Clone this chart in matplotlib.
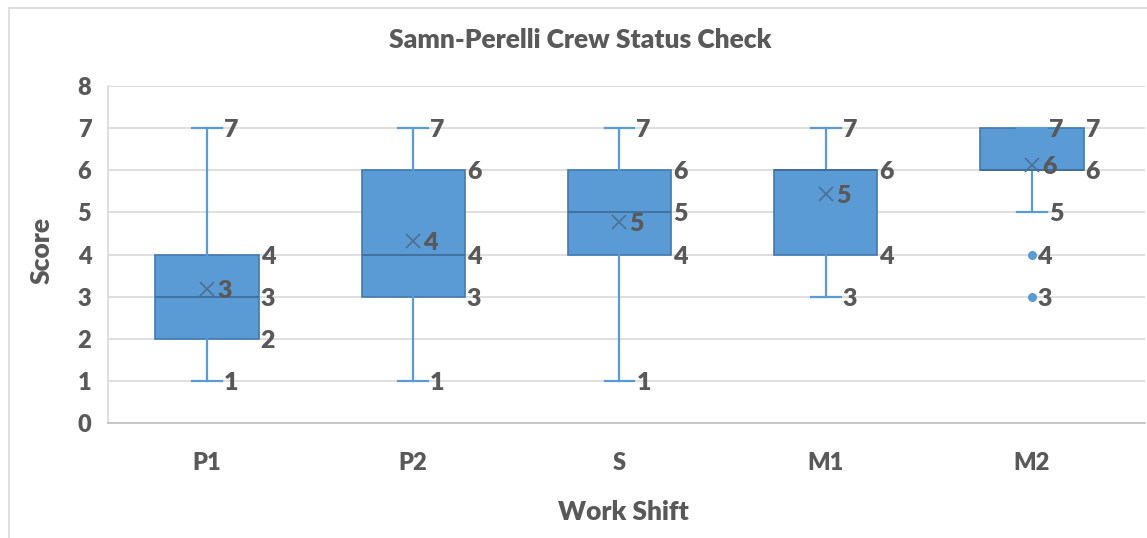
import matplotlib
matplotlib.use("Agg")
import matplotlib.pyplot as plt
from matplotlib.lines import Line2D

plt.rcParams['font.family'] = ['Lato', 'DejaVu Sans']

# ---- data ----
shifts = ["P1", "P2", "S", "M1", "M2"]
whisk_lo = [1, 1, 1, 3, 5]
q1 = [2, 3, 4, 4, 6]
medians = [3, 4, 5, 6, 6]
q3 = [4, 6, 6, 6, 7]
whisk_hi = [7, 7, 7, 7, 7]
means = [3.18, 4.32, 4.77, 5.44, 6.12]
outliers = [[], [], [], [], [4, 3]]
y_ticks = [0, 1, 2, 3, 4, 5, 6, 7, 8]

title = "Samn-Perelli Crew Status Check"
xlabel = "Work Shift"
ylabel = "Score"

W, H = 1147, 538
fig = plt.figure(figsize=(W / 100, H / 100), dpi=100)
ax = fig.add_axes([108 / W, 1 - 423 / H, (1145 - 108) / W, (423 - 86) / H])

TXT = "#595959"
BLUE = "#5B9BD5"
EDGE = "#4279B0"

stats = []
for i, s in enumerate(shifts):
    stats.append(dict(label=s, whislo=whisk_lo[i], q1=q1[i], med=medians[i],
                      q3=q3[i], whishi=whisk_hi[i], mean=means[i],
                      fliers=outliers[i]))

pos = list(range(1, len(shifts) + 1))
ax.bxp(stats, positions=pos, widths=0.5, capwidths=0.145, patch_artist=True,
       showmeans=True, showfliers=True,
       boxprops=dict(facecolor=BLUE, edgecolor=EDGE, linewidth=1.2),
       whiskerprops=dict(color=BLUE, linewidth=1.6),
       capprops=dict(color=BLUE, linewidth=1.6),
       medianprops=dict(color="#3F6E9C", linewidth=1.3),
       meanprops=dict(marker="x", markeredgecolor="#4C6F93", markersize=10,
                      markeredgewidth=1.2),
       flierprops=dict(marker="o", markerfacecolor=BLUE, markeredgecolor=BLUE,
                       markersize=5.5),
       zorder=3)

ax.set_xlim(0.52, 5.548)
ax.set_ylim(0, 8)
ax.set_yticks(y_ticks)
ax.set_xticks(pos)
ax.set_xticklabels(shifts)
ax.grid(axis="y", color="#D9D9D9", linewidth=1.2, zorder=0)
ax.set_axisbelow(True)
for sp in ["top", "right"]:
    ax.spines[sp].set_visible(False)
ax.spines["left"].set_color("#D9D9D9")
ax.spines["left"].set_linewidth(1.2)
ax.spines["bottom"].set_color("#BFBFBF")
ax.spines["bottom"].set_linewidth(1.2)
ax.tick_params(axis="both", length=0, labelcolor=TXT, labelsize=17)
ax.tick_params(axis="x", pad=21)
ax.tick_params(axis="y", pad=12)
for lab in ax.get_xticklabels() + ax.get_yticklabels():
    lab.set_fontweight("heavy")

LBL = dict(color=TXT, fontsize=18, fontweight="heavy", va="center", ha="left",
           textcoords="offset points", annotation_clip=False, zorder=5)
pt = 0.72  # px -> pt
for i, x in enumerate(pos):
    # whisker end labels
    for v in sorted({whisk_lo[i], whisk_hi[i]}):
        ax.annotate(f"{v:.0f}", (x + 0.0725, v), xytext=(2 * pt, -2 * pt), **LBL)
    # box labels
    for v in sorted({q1[i], medians[i], q3[i]}):
        ax.annotate(f"{v:.0f}", (x + 0.25, v), xytext=(2 * pt, -2 * pt), **LBL)
    # mean label
    ax.annotate(f"{means[i]:.0f}", (x, means[i]), xytext=(10 * pt, -2 * pt), **LBL)
    # outlier labels
    for v in outliers[i]:
        ax.annotate(f"{v:.0f}", (x, v), xytext=(5 * pt, -2 * pt), **LBL)

fig.text(580 / W, 1 - 40 / H, title, ha="center", va="center", color=TXT,
         fontsize=19, fontweight="heavy")
fig.text(623 / W, 1 - 512 / H, xlabel, ha="center", va="center", color=TXT,
         fontsize=19, fontweight="heavy")
fig.text(42 / W, 1 - 250 / H, ylabel, ha="center", va="center", color=TXT,
         fontsize=19, fontweight="heavy", rotation=90)

# chart-area border
fig.add_artist(Line2D([9 / W, 9 / W], [0, 1 - 8 / H], color="#D9D9D9", lw=1.2,
                      transform=fig.transFigure))
fig.add_artist(Line2D([9 / W, 1], [1 - 8 / H, 1 - 8 / H], color="#D9D9D9", lw=1.2,
                      transform=fig.transFigure))

fig.savefig("out.png", dpi=100)
